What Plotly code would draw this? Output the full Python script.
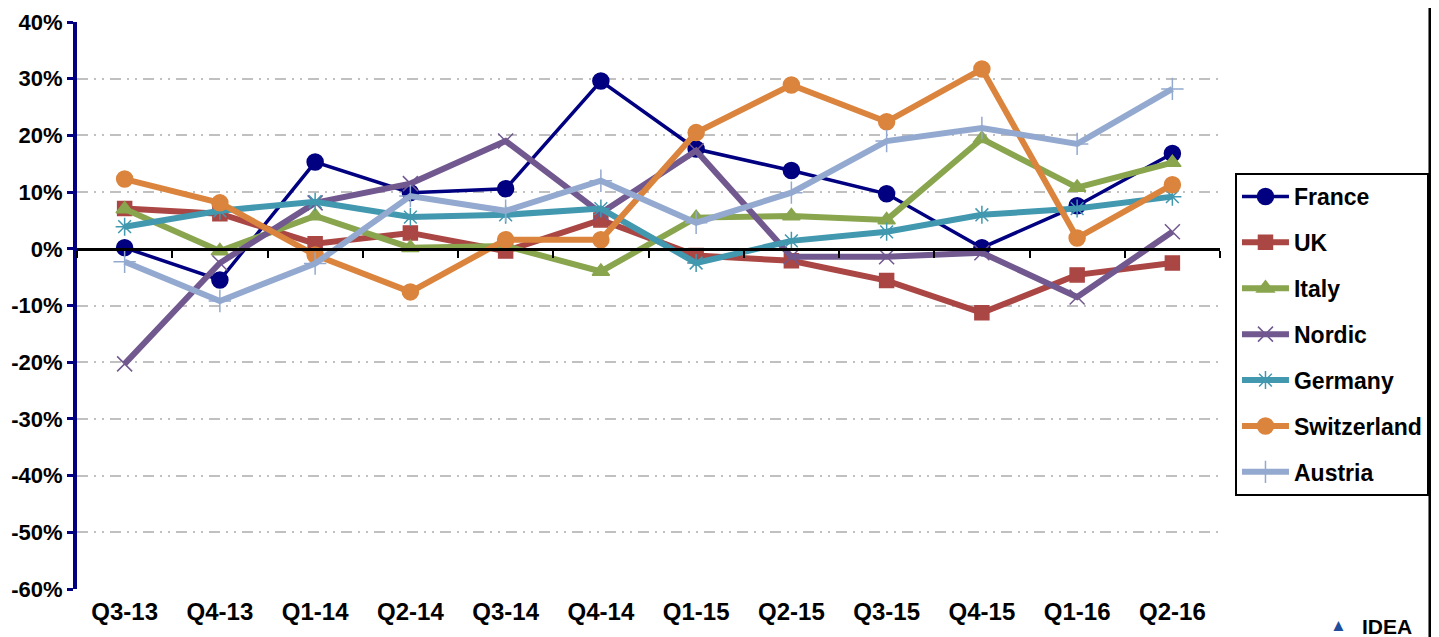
import plotly.graph_objects as go

quarters = ["Q3-13", "Q4-13", "Q1-14", "Q2-14", "Q3-14", "Q4-14",
            "Q1-15", "Q2-15", "Q3-15", "Q4-15", "Q1-16", "Q2-16"]

france = [0.2, -5.5, 15.3, 9.9, 10.6, 29.6, 17.6, 13.8, 9.7, 0.2, 7.6, 16.8]
uk = [7.1, 6.2, 0.9, 2.8, -0.4, 5.1, -1.2, -2.1, -5.6, -11.3, -4.6, -2.5]
italy = [7.0, -0.4, 5.8, 0.2, 0.5, -4.0, 5.5, 5.8, 5.1, 19.4, 10.8, 15.2]
nordic = [-20.3, -2.5, 8.1, 11.5, 19.0, 6.3, 17.3, -1.4, -1.4, -0.7, -8.5, 3.0]
germany = [3.9, 6.7, 8.3, 5.6, 6.0, 7.1, -2.5, 1.4, 3.0, 6.0, 7.1, 9.2]
switzerland = [12.3, 8.1, -1.1, -7.6, 1.6, 1.6, 20.5, 28.9, 22.4, 31.7, 1.9, 11.3]
austria = [-2.3, -9.2, -2.6, 9.3, 6.7, 12.0, 4.6, 9.9, 19.0, 21.3, 18.5, 28.2]

y_ticks = [40, 30, 20, 10, 0, -10, -20, -30, -40, -50, -60]
y_tick_labels = [f"{v}%" for v in y_ticks]

series = [
    ("France", france, "#000080", 3.5, "circle", 16),
    ("UK", uk, "#AA4643", 6, "square", 14),
    ("Italy", italy, "#89A54E", 6, "triangle-up", 15),
    ("Nordic", nordic, "#71588F", 6, "x-thin-open", 15),
    ("Germany", germany, "#4198AF", 6, "asterisk-open", 15),
    ("Switzerland", switzerland, "#DB843D", 6, "circle", 16),
    ("Austria", austria, "#93A9CF", 6, "cross-thin-open", 16),
]

fig = go.Figure()
for i, (name, vals, color, lw, sym, ms) in enumerate(series):
    fig.add_trace(go.Scatter(
        x=quarters, y=vals, name=name, mode="lines+markers",
        line=dict(color=color, width=lw),
        marker=dict(symbol=sym, size=ms, color=color,
                    line=dict(color=color, width=1.5)),
        legendgroup=f"g{i}",
    ))

# dummy trace to draw the zero-line axis with boundary ticks
fig.add_trace(go.Scatter(x=quarters, y=[None] * len(quarters), xaxis="x2",
                         showlegend=False, hoverinfo="skip", mode="lines"))

font_family = "Liberation Sans, Arial, sans-serif"

fig.update_layout(
    width=1439, height=637,
    margin=dict(l=69, r=227, t=14, b=56, autoexpand=False),
    plot_bgcolor="white", paper_bgcolor="white",
    showlegend=True,
    legend=dict(
        x=1.0131, y=0.7337, xanchor="left", yanchor="top",
        bordercolor="black", borderwidth=2,
        font=dict(family=font_family, size=23, color="black", weight="bold"),
        traceorder="grouped", tracegroupgap=13,
        itemwidth=47,
    ),
    xaxis=dict(
        type="category", categoryorder="array", categoryarray=quarters,
        range=[-0.5, 11.5], showgrid=False, zeroline=False, showline=False,
        automargin=False,
        ticks="", tickfont=dict(family=font_family, size=24, color="black", weight="bold"),
        ticklabelstandoff=6,
    ),
    xaxis2=dict(
        type="category", categoryorder="array", categoryarray=quarters,
        range=[-0.5, 11.5], overlaying="x", anchor="free", position=0.6,
        showline=True, linecolor="black", linewidth=3, automargin=False,
        ticks="outside", tickson="boundaries", ticklen=7, tickwidth=2,
        tickcolor="black", showticklabels=False, showgrid=False, zeroline=False,
    ),
    yaxis=dict(
        range=[-60, 40], tickvals=y_ticks, ticktext=y_tick_labels,
        showline=True, linecolor="#000080", linewidth=4, automargin=False,
        ticks="outside", ticklen=6, tickwidth=3, tickcolor="#000080",
        showgrid=True, gridcolor="#C0C0C0", gridwidth=2,
        griddash="11px,6px,2px,6px,2px,6px",
        zeroline=False,
        tickfont=dict(family=font_family, size=22, color="black", weight="bold"),
    ),
    shapes=[
        dict(type="line", xref="paper", yref="paper", x0=1.1837, x1=1.1837,
             y0=-0.2, y1=1.1, line=dict(color="black", width=3)),
    ],
    annotations=[
        dict(xref="paper", yref="paper", x=1.1035, y=-0.064, showarrow=False,
             xanchor="center", yanchor="middle",
             text="▲", font=dict(family=font_family, size=17, color="#1F4E9C")),
        dict(xref="paper", yref="paper", x=1.1225, y=-0.066, showarrow=False,
             xanchor="left", yanchor="middle",
             text="IDEA", font=dict(family=font_family, size=21, color="black", weight="bold")),
    ],
)

fig.write_html("out.html")
